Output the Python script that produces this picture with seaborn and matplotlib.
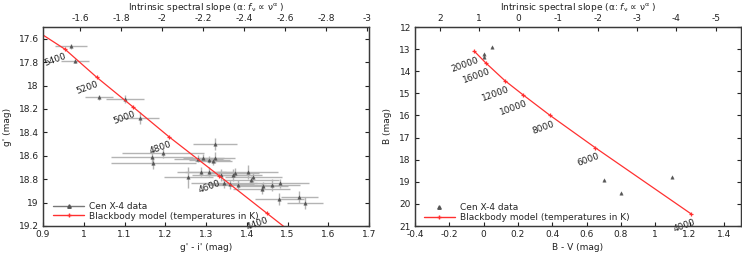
import matplotlib
matplotlib.use("Agg")
import matplotlib.pyplot as plt
from matplotlib.lines import Line2D
from matplotlib.ticker import FuncFormatter
import seaborn as sns
import pandas as pd

# ---------------- data: left panel (g' vs g'-i') ----------------
gi_color = [0.969, 0.979, 1.038, 1.101, 1.138, 1.168, 1.171, 1.195, 1.322, 1.281,
            1.293, 1.308, 1.318, 1.322, 1.257, 1.288, 1.308, 1.336, 1.344, 1.367,
            1.370, 1.359, 1.378, 1.402, 1.410, 1.416, 1.437, 1.440, 1.461, 1.482,
            1.480, 1.529, 1.543]
g_mag = [17.665, 17.79, 18.10, 18.115, 18.28, 18.61, 18.66, 18.58, 18.50, 18.625,
         18.615, 18.635, 18.645, 18.615, 18.785, 18.735, 18.735, 18.765, 18.835, 18.765,
         18.745, 18.845, 18.85, 18.74, 18.81, 18.785, 18.88, 18.86, 18.85, 18.835,
         18.97, 18.955, 19.005]
gi_err = [0.040, 0.035, 0.035, 0.046, 0.047, 0.10, 0.105, 0.10, 0.055, 0.06,
          0.05, 0.05, 0.045, 0.05, 0.06, 0.06, 0.06, 0.07, 0.08, 0.07,
          0.06, 0.06, 0.07, 0.075, 0.07, 0.07, 0.07, 0.06, 0.07, 0.07,
          0.06, 0.045, 0.045]
g_err = [0.02, 0.02, 0.02, 0.03, 0.05, 0.07, 0.05, 0.04, 0.05, 0.03,
         0.03, 0.03, 0.03, 0.05, 0.09, 0.04, 0.04, 0.05, 0.04, 0.05,
         0.04, 0.04, 0.04, 0.06, 0.04, 0.04, 0.05, 0.04, 0.05, 0.04,
         0.05, 0.05, 0.05]

bb_left_temp = [5600, 5400, 5200, 5000, 4800, 4600, 4400, 4200]
bb_left_gi = [0.874, 0.954, 1.032, 1.122, 1.210, 1.332, 1.449, 1.570]
bb_left_g = [17.51, 17.69, 17.93, 18.186, 18.44, 18.77, 19.09, 19.42]
bb_left_labels = ["", "5400", "5200", "5000", "4800", "4600", "4400", ""]

# ---------------- data: right panel (B vs B-V) ----------------
bv_color = [0.05, 0.0, 0.0, 0.70, 0.80, 1.10]
b_mag = [12.9, 13.2, 13.35, 18.9, 19.5, 18.8]

bb_right_temp = [20000, 16000, 12000, 10000, 8000, 6000, 4000]
bb_right_bv = [-0.055, 0.012, 0.123, 0.230, 0.384, 0.649, 1.207]
bb_right_b = [13.09, 13.62, 14.42, 15.07, 15.98, 17.45, 20.44]
bb_right_labels = ["20000", "16000", "12000", "10000", "8000", "6000", "4000"]

# tick values
left_xticks = [0.9, 1.0, 1.1, 1.2, 1.3, 1.4, 1.5, 1.6, 1.7]
left_yticks = [17.6, 17.8, 18.0, 18.2, 18.4, 18.6, 18.8, 19.0, 19.2]
left_topticks = [-1.6, -1.8, -2.0, -2.2, -2.4, -2.6, -2.8, -3.0]
right_xticks = [-0.4, -0.2, 0.0, 0.2, 0.4, 0.6, 0.8, 1.0, 1.2, 1.4]
right_yticks = [12, 13, 14, 15, 16, 17, 18, 19, 20, 21]
right_topticks = [2, 1, 0, -1, -2, -3, -4, -5]

# ---------------- style ----------------
sns.set_theme(style="white")
plt.rcParams['font.family'] = ['DejaVu Sans']
plt.rcParams['axes.unicode_minus'] = False
plt.rcParams['mathtext.fontset'] = 'dejavusans'

FS = 6.5
FRAME = '#3a3a3a'
TXT = '#222222'
RED = '#ff3030'
ERRC = '#b4b4b4'
MKC = '#555555'

fmt = FuncFormatter(lambda v, p: f"{v:g}")

fig = plt.figure(figsize=(7.42, 2.54), dpi=100)
axL = fig.add_axes([43 / 742, 28 / 254, 326 / 742, 199 / 254])
axR = fig.add_axes([415 / 742, 28 / 254, 326 / 742, 199 / 254])

top_title = r"Intrinsic spectral slope (α: $f_{\mathrm{\nu}}$ ∝ ν$^{\mathrm{\alpha}}$ )"


def style_axes(ax, xlim, ylim, xticks, yticks, xlabel, ylabel, toplim, topticks):
    ax.set_xlim(*xlim)
    ax.set_ylim(*ylim)
    ax.set_xticks(xticks)
    ax.set_yticks(yticks)
    ax.xaxis.set_major_formatter(fmt)
    ax.yaxis.set_major_formatter(fmt)
    ax.set_xlabel(xlabel, fontsize=FS, color=TXT, labelpad=3)
    ax.set_ylabel(ylabel, fontsize=FS, color=TXT, labelpad=5)
    ax.tick_params(axis='x', which='both', direction='in', top=False, bottom=True,
                   length=3, width=0.8, labelsize=FS, colors=TXT, pad=3)
    ax.tick_params(axis='y', which='both', direction='in', left=True, right=True,
                   length=3, width=0.8, labelsize=FS, colors=TXT, pad=3)
    for s in ax.spines.values():
        s.set_color(FRAME)
        s.set_linewidth(0.9)
    ax2 = ax.twiny()
    ax2.set_xlim(*toplim)
    ax2.set_xticks(topticks)
    ax2.xaxis.set_major_formatter(fmt)
    ax2.tick_params(axis='x', direction='in', top=True, bottom=False, length=3,
                    width=0.8, labelsize=FS, colors=TXT, pad=3)
    ax2.set_xlabel(top_title, fontsize=FS, color=TXT, labelpad=3)
    for s in ax2.spines.values():
        s.set_color(FRAME)
        s.set_linewidth(0.9)
    ax2.grid(False)
    return ax2


def label_temps(ax, xs, ys, labels, dx, dy):
    for x, y, t in zip(xs, ys, labels):
        if not t:
            continue
        ax.annotate(t, (x, y), xytext=(dx, dy), textcoords='offset points',
                    ha='right', va='center', rotation=20, rotation_mode='anchor',
                    fontsize=FS, color=TXT, annotation_clip=True)


# ---------------- left panel ----------------
dfL = pd.DataFrame({"gi": gi_color, "g": g_mag})
axL.errorbar(gi_color, g_mag, xerr=gi_err, yerr=g_err, fmt='none',
             ecolor=ERRC, elinewidth=1.0, capsize=0, zorder=2)
sns.scatterplot(data=dfL, x="gi", y="g", ax=axL, marker='^', s=6, color=MKC,
                edgecolor=MKC, linewidth=0.3, zorder=3, legend=False)
dfBL = pd.DataFrame({"gi": bb_left_gi, "g": bb_left_g})
sns.lineplot(data=dfBL, x="gi", y="g", ax=axL, sort=False, color=RED, lw=0.9,
             marker='+', markersize=3, markeredgewidth=0.9, markeredgecolor=RED,
             zorder=4, legend=False)
label_temps(axL, bb_left_gi, bb_left_g, bb_left_labels, 1, -5)
style_axes(axL, (0.9, 1.7), (19.2, 17.5), left_xticks, left_yticks,
           "g' - i' (mag)", "g' (mag)", (-1.42, -3.01), left_topticks)

hL = [Line2D([], [], color='#777777', lw=1.0, marker='^', ms=2.5,
             markerfacecolor=MKC, markeredgecolor=MKC),
      Line2D([], [], color=RED, lw=1.0, marker='+', ms=3, markeredgecolor=RED)]
axL.legend(hL, ["Cen X-4 data", "Blackbody model (temperatures in K)"],
           loc='lower left', frameon=False, fontsize=FS, handlelength=3.4,
           handletextpad=0.6, labelspacing=0.1, borderaxespad=0.2,
           bbox_to_anchor=(0.015, 0.0))

# ---------------- right panel ----------------
dfR = pd.DataFrame({"bv": bv_color, "b": b_mag})
sns.scatterplot(data=dfR, x="bv", y="b", ax=axR, marker='^', s=6, color=MKC,
                edgecolor=MKC, linewidth=0.3, zorder=3, legend=False)
dfBR = pd.DataFrame({"bv": bb_right_bv, "b": bb_right_b})
sns.lineplot(data=dfBR, x="bv", y="b", ax=axR, sort=False, color=RED, lw=0.9,
             marker='+', markersize=3, markeredgewidth=0.9, markeredgecolor=RED,
             zorder=4, legend=False)
label_temps(axR, bb_right_bv, bb_right_b, bb_right_labels, 3, -6)
style_axes(axR, (-0.4, 1.5), (21, 12), right_xticks, right_yticks,
           "B - V (mag)", "B (mag)", (2.63, -5.64), right_topticks)

hR = [Line2D([], [], color='none', marker='^', ms=2.5,
             markerfacecolor=MKC, markeredgecolor=MKC),
      Line2D([], [], color=RED, lw=1.0, marker='+', ms=3, markeredgecolor=RED)]
axR.legend(hR, ["Cen X-4 data", "Blackbody model (temperatures in K)"],
           loc='lower left', frameon=False, fontsize=FS, handlelength=3.4,
           handletextpad=0.6, labelspacing=0.1, borderaxespad=0.05,
           bbox_to_anchor=(0.015, 0.0))

fig.savefig("out.png", dpi=100)
